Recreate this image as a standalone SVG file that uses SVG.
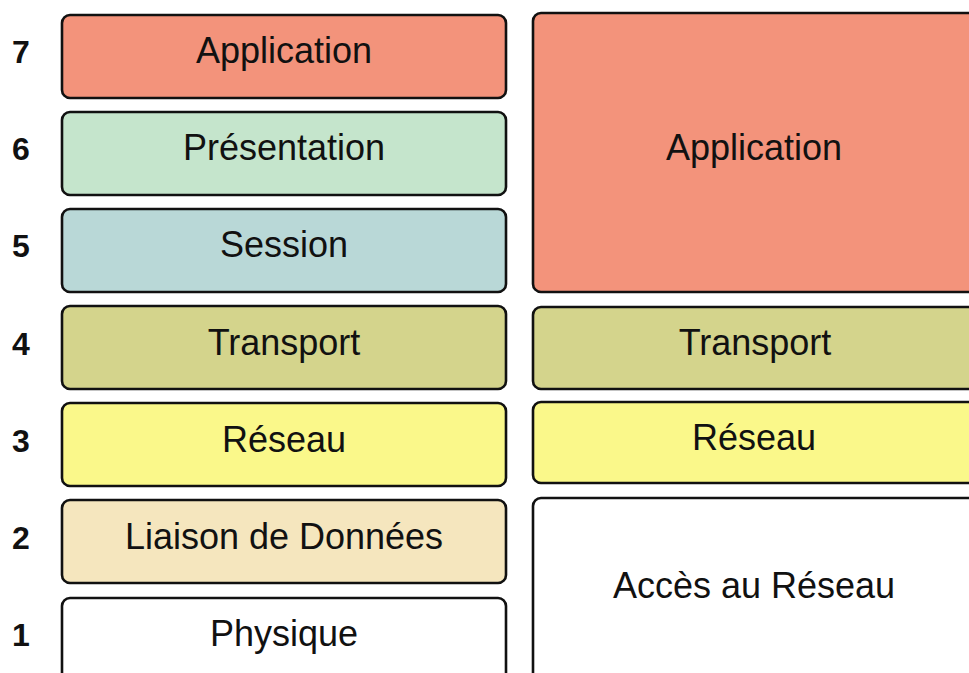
<svg xmlns="http://www.w3.org/2000/svg" width="969" height="673" viewBox="0 0 969 673">
<style>
.box{stroke:#111;stroke-width:2.6}
.lbl{font-family:"Liberation Sans",Arial,sans-serif;font-size:36px;fill:#111;text-anchor:middle}
.num{font-family:"Liberation Sans",Arial,sans-serif;font-size:32px;font-weight:bold;fill:#111;text-anchor:middle}
</style>
<rect width="969" height="673" fill="#fff"/>
<g id="osi">
<g id="n7"><rect class="box" x="62" y="15" width="444" height="83" rx="8" fill="#F3937B"/><text class="lbl" x="284" y="63">Application</text><text class="num" x="21" y="63">7</text></g>
<g id="n6"><rect class="box" x="62" y="112" width="444" height="83" rx="8" fill="#C5E5CC"/><text class="lbl" x="284" y="160">Présentation</text><text class="num" x="21" y="160">6</text></g>
<g id="n5"><rect class="box" x="62" y="209" width="444" height="83" rx="8" fill="#B9D8D7"/><text class="lbl" x="284" y="257">Session</text><text class="num" x="21" y="257">5</text></g>
<g id="n4"><rect class="box" x="62" y="306" width="444" height="83" rx="8" fill="#D4D48C"/><text class="lbl" x="284" y="355">Transport</text><text class="num" x="21" y="355">4</text></g>
<g id="n3"><rect class="box" x="62" y="403" width="444" height="83" rx="8" fill="#FAF88A"/><text class="lbl" x="284" y="452">Réseau</text><text class="num" x="21" y="452">3</text></g>
<g id="n2"><rect class="box" x="62" y="500" width="444" height="83" rx="8" fill="#F5E6BE"/><text class="lbl" x="284" y="549">Liaison de Données</text><text class="num" x="21" y="549">2</text></g>
<g id="n1"><rect class="box" x="62" y="598" width="444" height="100" rx="8" fill="#fff"/><text class="lbl" x="284" y="646">Physique</text><text class="num" x="21" y="646">1</text></g>
</g>
<g id="tcpip">
<g id="r_app"><rect class="box" x="533" y="13" width="443" height="279" rx="8" fill="#F3937B"/><text class="lbl" x="754" y="160">Application</text></g>
<g id="r_tr"><rect class="box" x="533" y="307" width="443" height="82" rx="8" fill="#D4D48C"/><text class="lbl" x="755" y="355">Transport</text></g>
<g id="r_net"><rect class="box" x="533" y="402" width="443" height="81" rx="8" fill="#FAF88A"/><text class="lbl" x="754" y="450">Réseau</text></g>
<g id="r_acc"><rect class="box" x="533" y="498" width="443" height="200" rx="8" fill="#fff"/><text class="lbl" x="754" y="598">Accès au Réseau</text></g>
</g>
<g id="connectors"/>
</svg>
